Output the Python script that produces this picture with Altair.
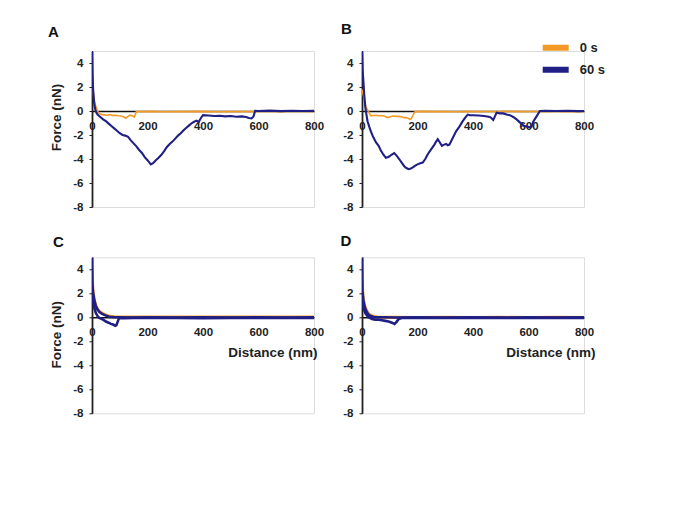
import altair as alt
import pandas as pd

ORANGE = "#F39A26"
NAVY = "#1F1F86"
SERIES = ["0 s", "60 s"]

# ---------------- Panel A ----------------
a60_d = [0, 2, 4, 8, 12, 16, 20, 30, 40, 50, 60, 70, 80, 90, 100, 110, 120, 130, 140, 150, 160, 170, 180,
         190, 200, 212, 220, 230, 240, 250, 260, 270, 280, 290, 300, 310, 320, 330, 340, 350, 360, 368, 377,
         385, 392, 400, 420, 440, 460, 480, 500, 520, 540, 555, 565, 575, 582, 588, 600, 640, 680, 720, 760, 800]
a60_f = [5.0, 3.0, 1.8, 0.6, 0.1, -0.15, -0.3, -0.5, -0.7, -0.85, -1.05, -1.25, -1.45, -1.65, -1.85, -2.0,
         -2.05, -2.15, -2.45, -2.7, -2.95, -3.25, -3.5, -3.85, -4.1, -4.45, -4.35, -4.1, -3.9, -3.65, -3.35,
         -3.0, -2.75, -2.55, -2.3, -2.05, -1.85, -1.6, -1.4, -1.2, -1.0, -0.9, -0.8, -0.9, -0.6, -0.35, -0.38,
         -0.42, -0.4, -0.45, -0.42, -0.48, -0.45, -0.5, -0.58, -0.62, -0.45, 0.02, 0.0, 0.03, -0.01, 0.02, 0.0, 0.01]
a0_d = [0, 3, 6, 10, 15, 20, 26, 35, 45, 55, 65, 75, 85, 95, 105, 115, 122, 130, 138, 145, 152, 156, 160,
        180, 220, 260, 300, 340, 380, 420, 460, 500, 540, 580, 620, 680, 740, 800]
a0_f = [3.0, 2.0, 1.2, 0.7, 0.3, 0.0, -0.2, -0.3, -0.32, -0.35, -0.3, -0.38, -0.35, -0.4, -0.42, -0.5, -0.6,
        -0.45, -0.35, -0.4, -0.5, -0.3, -0.05, -0.05, -0.03, -0.06, -0.04, -0.05, -0.03, -0.05, -0.06, -0.04,
        -0.05, -0.05, -0.04, -0.05, -0.04, -0.05]

# ---------------- Panel B ----------------
b60_d = [0, 2, 5, 8, 12, 16, 20, 26, 32, 40, 50, 60, 68, 76, 86, 92, 98, 106, 116, 124, 134, 143, 152, 160,
         168, 176, 183, 192, 200, 210, 219, 228, 237, 249, 261, 267, 273, 280, 288, 296, 303, 309, 315, 327,
         339, 351, 363, 372, 381, 389, 400, 420, 440, 461, 467, 473, 479, 485, 497, 509, 521, 533, 545, 557,
         569, 581, 593, 605, 611, 617, 629, 641, 660, 700, 740, 780, 800]
b60_f = [5.0, 3.5, 2.5, 1.4, 0.3, -0.3, -0.85, -1.3, -1.7, -2.15, -2.6, -2.9, -3.3, -3.6, -3.9, -3.85, -3.8,
         -3.65, -3.5, -3.7, -4.0, -4.3, -4.6, -4.75, -4.85, -4.8, -4.7, -4.55, -4.45, -4.35, -4.3, -4.0, -3.6,
         -3.2, -2.8, -2.55, -2.35, -2.6, -2.9, -2.8, -2.75, -2.85, -2.8, -2.25, -1.7, -1.3, -0.85, -0.55, -0.3,
         -0.35, -0.35, -0.38, -0.42, -0.5, -0.6, -0.75, -0.45, -0.15, -0.2, -0.2, -0.3, -0.35, -0.5, -0.7,
         -0.95, -1.2, -1.3, -1.35, -1.3, -0.9, -0.45, 0.0, 0.02, 0.0, 0.02, -0.01, 0.0]
b0_d = [0, 3, 6, 10, 15, 20, 26, 32, 40, 50, 60, 70, 80, 93, 102, 112, 122, 134, 144, 152, 159, 166, 172,
        177, 183, 189, 194, 220, 260, 300, 340, 380, 420, 460, 500, 540, 580, 620, 660, 700, 740, 780, 800]
b0_f = [1.8, 1.5, 1.2, 0.7, 0.3, 0.1, -0.15, -0.4, -0.38, -0.35, -0.4, -0.38, -0.42, -0.55, -0.48, -0.42,
        -0.45, -0.45, -0.5, -0.55, -0.55, -0.6, -0.7, -0.65, -0.4, -0.1, -0.05, -0.03, -0.05, -0.04, -0.06,
        -0.03, -0.05, -0.04, -0.05, -0.03, -0.05, -0.04, -0.05, -0.04, -0.05, -0.04, -0.05]

# ---------------- Panel C ----------------
c60a_d = [0, 1, 2, 4, 8, 14, 20, 26, 35, 44, 55, 62, 80, 100, 150, 200, 300, 400, 500, 600, 700, 800]
c60a_f = [5.0, 3.5, 2.6, 2.0, 1.45, 0.9, 0.65, 0.45, 0.3, 0.2, 0.1, 0.05, 0.0, 0.0, -0.02, 0.0, -0.02, 0.0,
          -0.02, 0.0, -0.02, 0.0]
c60r_d = [0, 2, 5, 8, 14, 20, 26, 32, 40, 50, 60, 68, 76, 84, 88, 92, 96, 100, 120, 150, 200, 300, 400, 500,
          600, 700, 800]
c60r_f = [2.5, 1.8, 1.2, 0.8, 0.35, 0.1, -0.05, -0.1, -0.2, -0.35, -0.45, -0.55, -0.6, -0.7, -0.65, -0.4,
          -0.15, -0.05, -0.08, -0.05, -0.06, -0.05, -0.07, -0.05, -0.06, -0.05, -0.06]
c0_d = [0, 1, 2, 4, 8, 14, 20, 30, 40, 50, 60, 80, 100, 150, 200, 300, 400, 500, 600, 700, 800]
c0_f = [5.0, 3.8, 2.8, 2.1, 1.5, 1.0, 0.7, 0.45, 0.3, 0.2, 0.12, 0.05, 0.03, 0.02, 0.02, 0.03, 0.02, 0.03,
        0.02, 0.03, 0.02]

# ---------------- Panel D ----------------
d60a_d = [0, 1, 2, 4, 6, 9, 12, 18, 24, 32, 42, 55, 80, 120, 200, 300, 400, 500, 600, 700, 800]
d60a_f = [5.0, 3.2, 2.1, 1.6, 1.25, 0.95, 0.7, 0.4, 0.2, 0.1, 0.02, 0.0, 0.0, -0.02, 0.0, -0.02, 0.0, -0.02,
          0.0, -0.02, 0.0]
d60r_d = [0, 2, 5, 8, 12, 18, 24, 36, 48, 60, 72, 84, 96, 108, 117, 124, 130, 137, 144, 160, 200, 300, 400,
          500, 600, 700, 800]
d60r_f = [2.0, 1.4, 0.9, 0.6, 0.35, 0.15, 0.0, -0.15, -0.2, -0.2, -0.25, -0.3, -0.35, -0.45, -0.55, -0.4,
          -0.2, -0.1, -0.05, -0.05, -0.06, -0.05, -0.06, -0.05, -0.06, -0.05, -0.06]
d0_d = [0, 1, 2, 4, 6, 9, 12, 18, 24, 32, 42, 55, 80, 120, 200, 300, 400, 500, 600, 700, 800]
d0_f = [5.0, 3.5, 2.4, 1.8, 1.4, 1.05, 0.8, 0.5, 0.3, 0.15, 0.08, 0.03, 0.0, 0.0, -0.02, 0.0, -0.02, 0.0,
        -0.02, 0.0, -0.02]

x_ticks = [0, 200, 400, 600, 800]
y_ticks = [-8, -6, -4, -2, 0, 2, 4]

W, H = 222, 156
FONT = "Liberation Sans"
TXT = "#222222"


def frame(parts):
    rows = []
    for series, seg, ds, fs in parts:
        for d, f in zip(ds, fs):
            rows.append({"d": d, "F": f, "series": series, "seg": seg})
    return pd.DataFrame(rows)


def panel(letter, parts, width_line, show_ytitle, show_xtitle, legend, title_dx, title_dy, ytitle_y,
          xtitle_x):
    df = frame(parts)
    xaxis = alt.Axis(values=x_ticks, offset=-96, tickSize=0, labelPadding=9, labelFontSize=11.5,
                     labelFontWeight="bold", labelFont=FONT, labelColor=TXT, labelFlush=False,
                     labelOverlap=False, domainColor="#111111", domainWidth=1.4, grid=False,
                     title="Distance (nm)" if show_xtitle else None,
                     titleFont=FONT, titleFontSize=13.5, titleFontWeight="bold", titleColor=TXT,
                     titleAnchor="end", titleAlign="right", titleX=xtitle_x, titleY=39,
                     titleBaseline="alphabetic")
    yaxis = alt.Axis(values=y_ticks, tickSize=3, tickColor="#222222", tickWidth=1, labelPadding=6,
                     labelFontSize=11.5, labelFontWeight="bold", labelFont=FONT, labelColor=TXT,
                     labelExpr="datum.value < 0 ? '-' + abs(datum.value) : '' + datum.value",
                     domainColor="#222222", domainWidth=1.8, grid=False,
                     title="Force (nN)" if show_ytitle else None,
                     titleFont=FONT, titleFontSize=13.5, titleFontWeight="bold", titleColor=TXT,
                     titleX=-32, titleY=ytitle_y, titleBaseline="alphabetic", titleAlign="center",
                     titleAngle=-90)
    color = alt.Color("series:N", scale=alt.Scale(domain=SERIES, range=[ORANGE, NAVY]),
                      legend=legend)
    base = alt.Chart(df).encode(
        x=alt.X("d:Q", scale=alt.Scale(domain=[0, 800], nice=False, zero=False), axis=xaxis),
        y=alt.Y("F:Q", scale=alt.Scale(domain=[-8, 5], nice=False), axis=yaxis),
        color=color,
        detail="seg:N",
        order="d:Q",
    )
    lo = base.transform_filter(alt.datum.series == "0 s").mark_line(
        strokeWidth=width_line[0], clip=True)
    hi = base.transform_filter(alt.datum.series == "60 s").mark_line(
        strokeWidth=width_line[1], clip=True)
    return alt.layer(lo, hi).properties(
        width=W, height=H,
        title=alt.TitleParams(letter, anchor="start", frame="group", dx=title_dx, dy=title_dy, offset=0,
                              fontSize=15, font=FONT, fontWeight="bold", color="#111111",
                              baseline="alphabetic"),
    )


leg = alt.Legend(title=None, orient="none", legendX=177.7, legendY=-13.95, direction="vertical",
                 symbolType="stroke", symbolSize=676, symbolStrokeWidth=6, clipHeight=21.5,
                 symbolOpacity=1, labelFont=FONT, labelFontSize=13,
                 labelFontWeight="bold", labelColor=TXT, labelOffset=8, rowPadding=0, padding=0)

pA = panel("A", [("0 s", "a0", a0_d, a0_f), ("60 s", "a60", a60_d, a60_f)], (1.6, 2.1),
           True, False, None, -44, 0.6, 66, W + 12)
pB = panel("B", [("0 s", "b0", b0_d, b0_f), ("60 s", "b60", b60_d, b60_f)], (1.6, 2.1),
           False, False, leg, -21, 11.6, 78, W + 12)
pC = panel("C", [("0 s", "c0", c0_d, c0_f), ("60 s", "c60a", c60a_d, c60a_f),
                 ("60 s", "c60r", c60r_d, c60r_f)], (3.0, 2.6),
           True, True, None, -39, 5, 77, W + 3)
pD = panel("D", [("0 s", "d0", d0_d, d0_f), ("60 s", "d60a", d60a_d, d60a_f),
                 ("60 s", "d60r", d60r_d, d60r_f)], (3.0, 2.6),
           False, True, None, -21.5, 3.5, 78, W + 11)

chart = alt.concat(pA, pB, pC, pD, columns=2, spacing={"row": 50.3, "column": 48}, bounds="flush") \
    .resolve_legend(color="independent") \
    .properties(padding={"left": 39, "top": 13, "right": 20, "bottom": 20}, background="white") \
    .configure_view(stroke=None) \
    .configure(font=FONT)

chart.save("out.html", embed_options={"renderer": "svg", "actions": False})
